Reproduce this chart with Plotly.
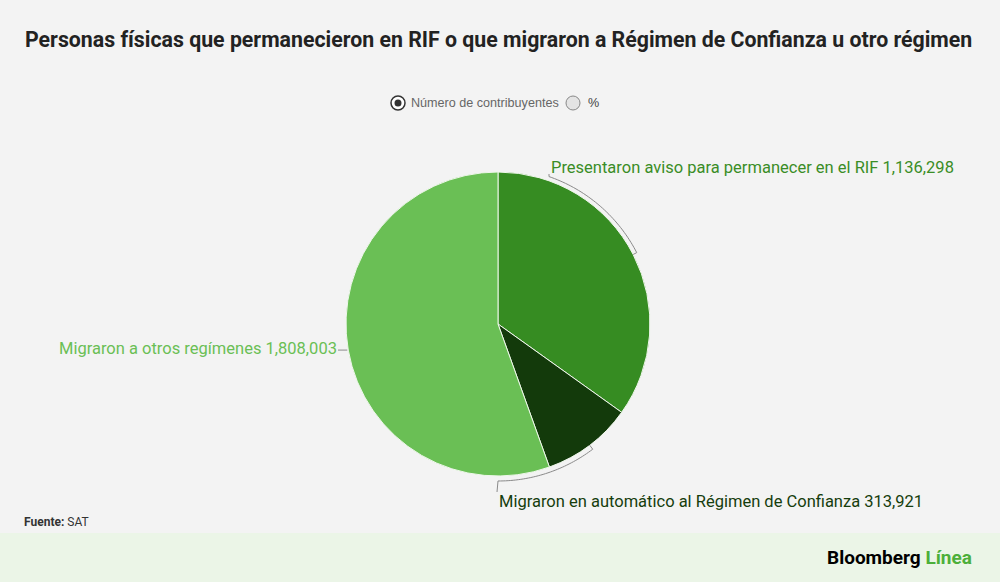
import math
import plotly.graph_objects as go

# Datos (SAT)
etiquetas = [
    "Presentaron aviso para permanecer en el RIF",
    "Migraron en automático al Régimen de Confianza",
    "Migraron a otros regímenes",
]
contribuyentes = [1136298, 313921, 1808003]
colores = ["#368c22", "#133a0b", "#6abf55"]

W, H = 1000, 582
cx, cy, R = 498, 324, 152  # centro y radio del pastel en píxeles


def px(x, y):
    return x / W, 1 - y / H


total = sum(contribuyentes)
angulos = []
acum = 0
for v in contribuyentes:
    ini = acum / total * 360
    acum += v
    fin = acum / total * 360
    angulos.append((ini, fin, (ini + fin) / 2))


def punto(theta, r):
    t = math.radians(theta)
    return cx + r * math.sin(t), cy - r * math.cos(t)


def arco(t0, t1, r, n=40):
    pts = []
    for i in range(n + 1):
        t = t0 + (t1 - t0) * i / n
        pts.append(px(*punto(t, r)))
    return pts


fig = go.Figure()

x0, y1 = px(cx - R, cy - R)
x1, y0 = px(cx + R, cy + R)
fig.add_trace(go.Pie(
    labels=etiquetas,
    values=contribuyentes,
    marker=dict(colors=colores, line=dict(color="#eef7ea", width=1)),
    sort=False,
    direction="clockwise",
    rotation=0,
    textinfo="none",
    hoverinfo="label+value",
    showlegend=False,
    domain=dict(x=[x0, x1], y=[y0, y1]),
))

shapes = []
annotations = []

# franja inferior
shapes.append(dict(type="rect", xref="paper", yref="paper", x0=0, x1=1, y0=0,
                   y1=1 - 533 / H, fillcolor="#ebf5e7", line=dict(width=0), layer="below"))

# líneas guía
guia = dict(color="#8a8a8a", width=1)
rg = R + 4


def path_de(pts):
    return "M " + " L ".join(f"{a:.5f},{b:.5f}" for a, b in pts)


# Presentaron aviso: arco desde la mitad del sector hasta la etiqueta
t_mid = angulos[0][2]
t_lab = math.degrees(math.asin((549 - cx) / rg))
pts = [px(*punto(t_mid, rg - 4))] + arco(t_mid, t_lab, rg) + [px(549, 174)]
shapes.append(dict(type="path", xref="paper", yref="paper", path=path_de(pts), line=guia))

# Migraron en automático
t_mid = angulos[1][2]
pts = [px(*punto(t_mid, rg - 4))] + arco(t_mid, 180, rg + 1) + [px(cx - 1, 492)]
shapes.append(dict(type="path", xref="paper", yref="paper", path=path_de(pts), line=guia))

# Migraron a otros
t_mid = angulos[2][2]
pm = punto(t_mid, R)
pts = [px(338, pm[1]), px(pm[0] - 1, pm[1])]
shapes.append(dict(type="path", xref="paper", yref="paper", path=path_de(pts), line=guia))

# etiquetas de los sectores
fuente_lab = "Roboto"
tam_lab = 16.5
ax, ay = px(549, 168)
annotations.append(dict(x=ax, y=ay, xref="paper", yref="paper", xanchor="left", yanchor="middle",
                        showarrow=False, text=f"{etiquetas[0]} {contribuyentes[0]:,}",
                        font=dict(family=fuente_lab, size=tam_lab, color="#3a8d26")))
ax, ay = px(497, 501)
annotations.append(dict(x=ax, y=ay, xref="paper", yref="paper", xanchor="left", yanchor="middle",
                        showarrow=False, text=f"{etiquetas[1]} {contribuyentes[1]:,}",
                        font=dict(family=fuente_lab, size=tam_lab, color="#163d0d")))
ax, ay = px(339, 348)
annotations.append(dict(x=ax, y=ay, xref="paper", yref="paper", xanchor="right", yanchor="middle",
                        showarrow=False, text=f"{etiquetas[2]} {contribuyentes[2]:,}",
                        font=dict(family=fuente_lab, size=tam_lab, color="#6abf55")))

# título
annotations.append(dict(x=0.4985, y=1 - 40 / H, xref="paper", yref="paper", xanchor="center", yanchor="middle",
                        showarrow=False,
                        text="<b>Personas físicas que permanecieron en RIF o que migraron a Régimen de Confianza u otro régimen</b>",
                        font=dict(family="Roboto", size=21.3, color="#222222")))

# selector (Número de contribuyentes / %)
r1x, r1y = px(391, 96)
r2x, r2y = px(405, 110)
shapes.append(dict(type="circle", xref="paper", yref="paper", x0=r1x, y0=r2y, x1=r2x, y1=r1y,
                   fillcolor="#ffffff", line=dict(color="#333333", width=1.5)))
a1, b1 = px(394.5, 99.5)
a2, b2 = px(401.5, 106.5)
shapes.append(dict(type="circle", xref="paper", yref="paper", x0=a1, y0=b2, x1=a2, y1=b1,
                   fillcolor="#333333", line=dict(width=0)))
c1, d1 = px(566, 96)
c2, d2 = px(580, 110)
shapes.append(dict(type="circle", xref="paper", yref="paper", x0=c1, y0=d2, x1=c2, y1=d1,
                   fillcolor="#e4e4e4", line=dict(color="#888888", width=1)))
lx, ly = px(409, 103)
annotations.append(dict(x=lx, y=ly, xref="paper", yref="paper", xanchor="left", yanchor="middle",
                        showarrow=False, text="Número de contribuyentes",
                        font=dict(family="Liberation Sans, Arial", size=12.6, color="#666666")))
lx, ly = px(586, 103)
annotations.append(dict(x=lx, y=ly, xref="paper", yref="paper", xanchor="left", yanchor="middle",
                        showarrow=False, text="%",
                        font=dict(family="Liberation Sans, Arial", size=12.6, color="#444444")))

# fuente
fx, fy = px(22, 522)
annotations.append(dict(x=fx, y=fy, xref="paper", yref="paper", xanchor="left", yanchor="middle",
                        showarrow=False, text="<b>Fuente:</b> SAT",
                        font=dict(family="Roboto", size=12, color="#333333")))

# logo
gx, gy = px(974, 557)
annotations.append(dict(x=gx, y=gy, xref="paper", yref="paper", xanchor="right", yanchor="middle",
                        showarrow=False,
                        text="<b>Bloomberg</b> <b><span style='color:#4caf3a'>Línea</span></b>",
                        font=dict(family="Roboto", size=19, color="#000000")))

fig.update_layout(
    width=W, height=H,
    margin=dict(l=0, r=0, t=0, b=0),
    paper_bgcolor="#f3f3f3",
    plot_bgcolor="#f3f3f3",
    shapes=shapes,
    annotations=annotations,
)

fig.write_html("out.html", config={"displayModeBar": False},
               post_script="document.body.style.margin='0';")
